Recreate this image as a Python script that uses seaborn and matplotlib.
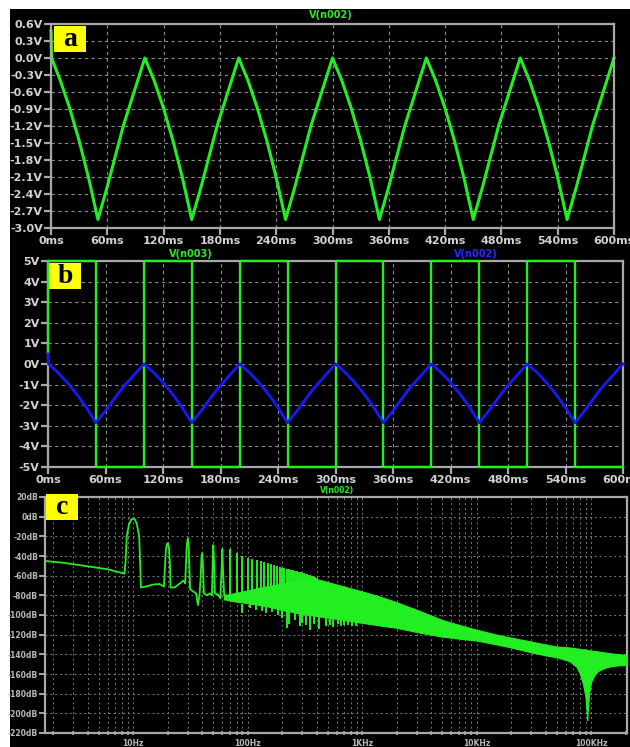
import numpy as np
import pandas as pd
import matplotlib
matplotlib.use("Agg")
import matplotlib.pyplot as plt
import seaborn as sns
from matplotlib.patches import Rectangle
from matplotlib.ticker import FixedLocator, LogLocator, NullFormatter

# ---------------- data ----------------
# V(n002) – transient (ms, V)
t_n002 = [0, 0.6, 10, 20, 30, 40, 50, 60, 77, 100,
          110, 120, 130, 140, 150, 160, 177, 200,
          210, 220, 230, 240, 250, 260, 277, 300,
          310, 320, 330, 340, 350, 360, 377, 400,
          410, 420, 430, 440, 450, 460, 477, 500,
          510, 520, 530, 540, 550, 560, 577, 600]
v_n002 = [0.48, 0.0, -0.40, -0.89, -1.46, -2.11, -2.85, -2.27, -1.2, 0.0,
          -0.40, -0.89, -1.46, -2.11, -2.85, -2.27, -1.2, 0.0,
          -0.40, -0.89, -1.46, -2.11, -2.85, -2.27, -1.2, 0.0,
          -0.40, -0.89, -1.46, -2.11, -2.85, -2.27, -1.2, 0.0,
          -0.40, -0.89, -1.46, -2.11, -2.85, -2.27, -1.2, 0.0,
          -0.40, -0.89, -1.46, -2.11, -2.85, -2.27, -1.2, 0.0]

# V(n003) – square wave (ms, V)
t_n003 = [0, 0, 50, 50, 100, 100, 150, 150, 200, 200, 250, 250, 300, 300,
          350, 350, 400, 400, 450, 450, 500, 500, 550, 550, 600]
v_n003 = [0.5, 5, 5, -5, -5, 5, 5, -5, -5, 5, 5, -5, -5, 5,
          5, -5, -5, 5, 5, -5, -5, 5, 5, -5, -5]

time_ticks = [0, 60, 120, 180, 240, 300, 360, 420, 480, 540, 600]
time_labels = ["0ms", "60ms", "120ms", "180ms", "240ms", "300ms", "360ms",
               "420ms", "480ms", "540ms", "600ms"]
a_yticks = [0.6, 0.3, 0.0, -0.3, -0.6, -0.9, -1.2, -1.5, -1.8, -2.1, -2.4, -2.7, -3.0]
a_ylabels = ["0.6V", "0.3V", "0.0V", "-0.3V", "-0.6V", "-0.9V", "-1.2V", "-1.5V",
             "-1.8V", "-2.1V", "-2.4V", "-2.7V", "-3.0V"]
b_yticks = [5, 4, 3, 2, 1, 0, -1, -2, -3, -4, -5]
b_ylabels = ["5V", "4V", "3V", "2V", "1V", "0V", "-1V", "-2V", "-3V", "-4V", "-5V"]

# FFT of V(n002): low-frequency trace (Hz, dB)
lf_freq = [1.7, 2.5, 4, 6, 8.4, 8.6, 8.8, 9.2, 9.6, 10.0, 10.4, 10.8, 11.3, 11.5, 11.7,
           13, 15, 17, 18.6, 18.9, 19.3, 19.7, 20.1, 20.6, 21.0, 21.2, 23, 25.5, 27.5,
           28.5, 28.9, 29.4, 30.0, 30.6, 31.1, 31.5, 33.5, 35.5, 36.8, 38, 39, 39.6,
           40.2, 40.8, 41.5, 44, 47, 48.8, 49.6, 50.2, 50.9, 51.8, 55, 57.8, 59.2,
           60.2, 61, 62.5, 65]
lf_db = [-45, -47, -50.5, -53.5, -58, -45, -20, -8, -3, -2, -3, -8, -20, -45, -72,
         -71, -69, -68.5, -71, -55, -35, -28, -27, -32, -50, -72, -72, -68, -65,
         -68, -50, -30, -22, -30, -55, -74, -76, -78, -90, -80, -60, -40,
         -37, -50, -78, -80, -78, -80, -45, -29, -45, -78, -79, -83, -55,
         -33, -55, -80, -80]

# harmonic spikes (Hz, peak dB)
spike_freq = [70, 80, 90, 100, 110, 120, 130, 140, 150, 160, 170, 180, 190, 200,
              210, 220, 230, 240, 250, 260, 270, 280, 290, 300, 310, 320, 330, 340,
              350, 360, 370, 380, 390, 400]
spike_db = [-34, -38, -41, -43, -44, -45, -46, -47, -48, -49, -50, -51, -52, -53,
            -53.5, -54, -54.5, -55, -55.5, -56, -56.5, -57, -57.5, -58, -58.5, -59, -59.5, -60,
            -60.5, -61, -61.5, -62, -62.5, -63]
# downward spikes (Hz, dB)
dip_freq = [89, 104, 118, 133, 145, 165, 183, 200, 219, 232, 262, 285, 300, 325, 350,
            380, 420, 480, 520, 560, 610, 650, 700, 760, 820, 880]
dip_db = [-97, -92, -94, -95, -97, -96, -99, -102, -112, -108, -104, -110, -107, -109, -114,
          -108, -113, -110, -109, -111, -108, -110, -109, -109, -110, -110]

# dense band of harmonics (Hz, upper dB, lower dB)
band_freq = [62, 75, 100, 130, 160, 200, 250, 300, 355, 450, 600, 1000, 1500, 2000, 3200,
             5000, 7000, 10000, 15000, 20000, 30000, 40000, 50000, 65000, 75000,
             80000, 85000, 89000, 91500, 92500, 93500, 96000, 100000, 107000, 115000,
             130000, 150000, 180000, 215000]
band_top = [-80, -78, -75, -72, -70, -68, -66, -64, -62, -65, -69, -76, -82, -87, -96,
            -105, -110, -115, -120, -123, -127, -130, -132, -133, -134,
            -134.5, -135, -135, -135.5, -135.5, -135.5, -136, -136, -136.5, -137,
            -138, -139, -140, -141]
band_low = [-84, -86, -88, -90, -92, -95, -97, -99, -100, -102, -104, -108, -111, -113, -118,
            -122, -124, -126, -130, -133, -138, -141, -143, -147, -153,
            -160, -170, -182, -198, -207, -198, -180, -168, -161, -157,
            -154, -152, -151, -151]

c_yticks = [20, 0, -20, -40, -60, -80, -100, -120, -140, -160, -180, -200, -220]
c_ylabels = ["20dB", "0dB", "-20dB", "-40dB", "-60dB", "-80dB", "-100dB", "-120dB",
             "-140dB", "-160dB", "-180dB", "-200dB", "-220dB"]
c_xticks = [10, 100, 1000, 10000, 100000]
c_xlabels = ["10Hz", "100Hz", "1KHz", "10KHz", "100KHz"]

# ---------------- style ----------------
W, H = 630, 747
GREEN = "#22EE22"
BLUE = "#1818F0"
FRAME = "#A8A8A8"
LABEL = "#D2D2D2"
GRID = "#8C8C8C"

fig = plt.figure(figsize=(W / 100, H / 100), dpi=100, facecolor="white")
fig.add_artist(Rectangle((10 / W, 0), 620 / W, (H - 9) / H, transform=fig.transFigure,
                         facecolor="black", edgecolor="none", zorder=0))


def px_axes(l, t, r, b):
    ax = fig.add_axes([l / W, 1 - b / H, (r - l) / W, (b - t) / H])
    ax.set_facecolor("black")
    for s in ax.spines.values():
        s.set_color(FRAME)
        s.set_linewidth(1.6)
    return ax


def fx(x):
    return x / W


def fy(y):
    return 1 - y / H


def label_box(l, t, r, b, letter):
    fig.add_artist(Rectangle((fx(l), fy(b)), (r - l) / W, (b - t) / H, transform=fig.transFigure,
                             facecolor="#FFFF00", edgecolor="none", zorder=10))
    fig.text(fx((l + r) / 2), fy((t + b) / 2 + 1), letter, ha="center", va="center",
             fontsize=20, fontweight="bold", family="Liberation Serif", color="black", zorder=11)


def style_time_axes(ax, yticks, ylabels, ylim):
    ax.set_xlim(0, 600)
    ax.set_ylim(*ylim)
    ax.xaxis.set_major_locator(FixedLocator(time_ticks))
    ax.set_xticklabels(time_labels, fontweight="bold", fontsize=8, color=LABEL)
    ax.yaxis.set_major_locator(FixedLocator(yticks))
    ax.set_yticklabels(ylabels, fontweight="bold", fontsize=8, color=LABEL)
    ax.tick_params(axis="both", colors=FRAME, length=5, width=1.6, direction="out", pad=1)
    ax.tick_params(axis="both", labelcolor=LABEL)
    ax.grid(True, color=GRID, linestyle=(0, (3, 3)), linewidth=0.8)
    ax.set_axisbelow(True)
    ax.set_xlabel("")
    ax.set_ylabel("")


# ---------- panel a ----------
ax_a = px_axes(51, 24, 614, 228)
df_a = pd.DataFrame({"t": t_n002, "v": v_n002})
sns.lineplot(data=df_a, x="t", y="v", ax=ax_a, color=GREEN, linewidth=2.2,
             estimator=None, sort=False, legend=False, clip_on=False)
style_time_axes(ax_a, a_yticks, a_ylabels, (-3.0, 0.6))
fig.text(fx(331), fy(15), "V(n002)", ha="center", va="center", fontsize=7,
         fontweight="bold", color=GREEN)
label_box(54, 26, 86, 52, "a")

# ---------- panel b ----------
ax_b = px_axes(48, 261, 623, 467)
df_b2 = pd.DataFrame({"t": t_n002, "v": v_n002})
df_b3 = pd.DataFrame({"t": t_n003, "v": v_n003})
sns.lineplot(data=df_b3, x="t", y="v", ax=ax_b, color=GREEN, linewidth=1.7,
             estimator=None, sort=False, legend=False, clip_on=False, zorder=4)
sns.lineplot(data=df_b2, x="t", y="v", ax=ax_b, color=BLUE, linewidth=2.1,
             estimator=None, sort=False, legend=False, clip_on=False, zorder=5)
style_time_axes(ax_b, b_yticks, b_ylabels, (-5, 5))
fig.text(fx(191), fy(254), "V(n003)", ha="center", va="center", fontsize=7,
         fontweight="bold", color=GREEN)
fig.text(fx(476), fy(254), "V(n002)", ha="center", va="center", fontsize=7,
         fontweight="bold", color="#2A2AFF")
label_box(49, 263, 81, 289, "b")

# ---------- panel c ----------
ax_c = px_axes(45, 497, 627, 733)
ax_c.set_xscale("log")
ax_c.set_xlim(1.70, 206000)
ax_c.set_ylim(-220, 20)
ax_c.fill_between(band_freq, band_low, band_top, color=GREEN, linewidth=0.8,
                  edgecolor=GREEN, zorder=3)
df_lf = pd.DataFrame({"f": lf_freq, "db": lf_db})
sns.lineplot(data=df_lf, x="f", y="db", ax=ax_c, color=GREEN, linewidth=1.3,
             estimator=None, sort=False, legend=False, zorder=4)
spike_rows = []
for i, (f, d) in enumerate(zip(spike_freq, spike_db)):
    spike_rows.append({"f": f, "db": -82, "u": i})
    spike_rows.append({"f": f, "db": d, "u": i})
for j, (f, d) in enumerate(zip(dip_freq, dip_db)):
    spike_rows.append({"f": f, "db": -90, "u": 100 + j})
    spike_rows.append({"f": f, "db": d, "u": 100 + j})
df_sp = pd.DataFrame(spike_rows)
sns.lineplot(data=df_sp, x="f", y="db", units="u", ax=ax_c, color=GREEN, linewidth=1.4,
             estimator=None, sort=False, legend=False, zorder=4)
ax_c.xaxis.set_major_locator(FixedLocator(c_xticks))
ax_c.set_xticklabels(c_xlabels, fontsize=5.5, fontweight="bold", color="#B8B8B8")
ax_c.xaxis.set_minor_locator(LogLocator(base=10, subs=[2, 3, 4, 5, 6, 7, 8, 9]))
ax_c.xaxis.set_minor_formatter(NullFormatter())
ax_c.yaxis.set_major_locator(FixedLocator(c_yticks))
ax_c.set_yticklabels(c_ylabels, fontsize=5.5, fontweight="bold", color="#B8B8B8")
ax_c.tick_params(axis="y", colors=FRAME, length=4, width=1.4, direction="out", pad=1)
ax_c.tick_params(axis="x", which="both", colors=FRAME, length=3, width=1.2,
                 direction="inout", pad=3)
ax_c.tick_params(axis="both", labelcolor="#B8B8B8")
ax_c.grid(True, which="both", color="#7A7A7A", linestyle=(0, (2, 3)), linewidth=0.7)
ax_c.set_axisbelow(True)
ax_c.set_xlabel("")
ax_c.set_ylabel("")
fig.text(fx(337), fy(491), "V(n002)", ha="center", va="center", fontsize=5.5,
         fontweight="bold", color=GREEN)
label_box(46, 494, 78, 520, "c")

fig.savefig("out.png", dpi=100, facecolor="white")
